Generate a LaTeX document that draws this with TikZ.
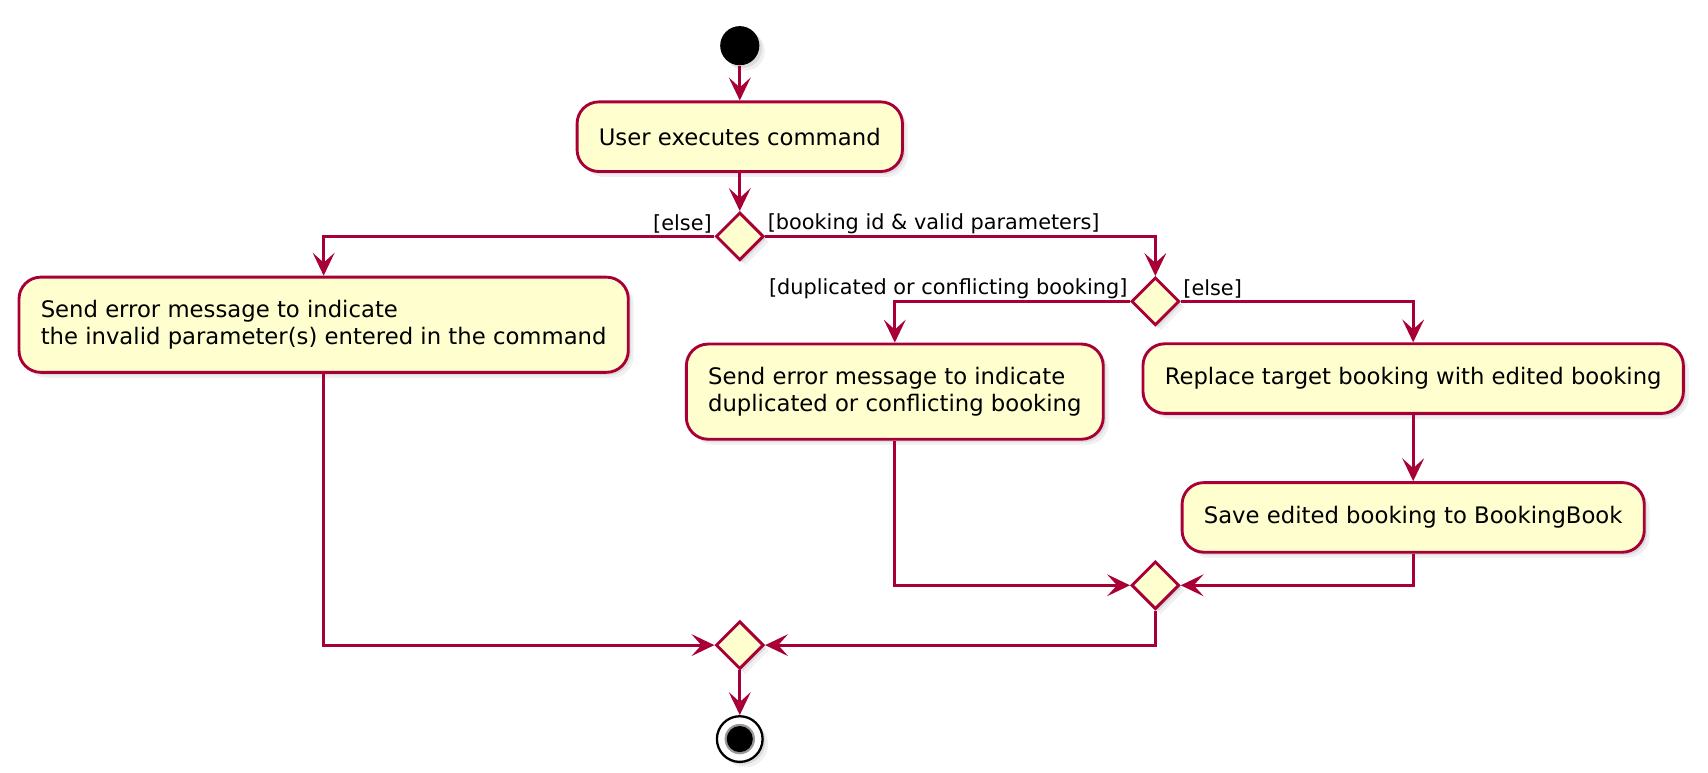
\documentclass[tikz,border=0pt]{standalone}
\usepackage{fontspec}
\setmainfont{DejaVu Sans}
\usepackage{tikz}
\usetikzlibrary{positioning,shapes.geometric,arrows.meta,shadows}
\definecolor{umlred}{HTML}{A80036}
\definecolor{umlfill}{HTML}{FEFECE}

\begin{document}
\begin{tikzpicture}[
x=0.02cm, y=-0.02cm,
umlshadow/.style={
	drop shadow={shadow xshift=0.05cm, shadow yshift=-0.05cm, opacity=0.18},
	drop shadow={shadow xshift=0.1cm, shadow yshift=-0.1cm, opacity=0.12}
},
act/.style={
	rectangle, rounded corners=0.4cm, draw=umlred, fill=umlfill,
	line width=1.5pt, minimum height=1.28cm, inner xsep=0.4cm,
	align=left, font=\fontsize{11.9}{14.2}\selectfont, umlshadow
},
act2/.style={act, minimum height=1.75cm},
choice/.style={
	diamond, draw=umlred, fill=umlfill, line width=1.5pt,
	minimum width=0.88cm, minimum height=0.88cm, inner sep=0pt, umlshadow
},
startdot/.style={circle, fill=black, minimum size=0.72cm, inner sep=0pt, umlshadow},
enddot/.style={
	circle, draw=black, fill=white, line width=1.2pt, minimum size=0.84cm, inner sep=0pt, umlshadow,
	path picture={
		\fill[black!40] (path picture bounding box.center) circle (0.28cm);
		\fill[black] (path picture bounding box.center) circle (0.24cm);
	}
},
guard/.style={font=\fontsize{10.9}{13}\selectfont, inner sep=1.2pt},
flow/.style={draw=umlred, line width=1.5pt},
>={Stealth[length=0.42cm, width=0.4cm, inset=0.18cm]},
->
]
\useasboundingbox (0,0) rectangle (1570,710);

\node[startdot] (start) at (680,42) {};
\node[act, below=0.64cm of start] (usercmd) {User executes command};
\node[choice, below=0.7cm of usercmd] (check) {};
\node[act2] (badparam) at (297.5,298.5) {Send error message to indicate\\the invalid parameter(s) entered in the command};
\node[choice] (conflict) at (1062,277) {};
\node[act2] (dupmsg) at (822.5,360) {Send error message to indicate\\duplicated or conflicting booking};
\node[act] (replace) at (1299,348) {Replace target booking with edited booking};
\node[act, below=1.22cm of replace] (save) {Save edited booking to BookingBook};
\node[choice] (merge1) at (1062,538) {};
\node[choice] (merge2) at (680,593) {};
\node[enddot, below=0.82cm of merge2] (stop) {};

\node[guard, above left] (elseA) at (check.west) {[else]};
\node[guard, above right] (validA) at (check.east) {[booking id \& valid parameters]};
\node[guard, above left] (dupA) at (conflict.west) {[duplicated or conflicting booking]};
\node[guard, above right] (elseB) at (conflict.east) {[else]};

\draw[flow] (start) -- (usercmd);
\draw[flow] (usercmd) -- (check);
\draw[flow] (check.west) -| (badparam.north);
\draw[flow] (check.east) -| (conflict.north);
\draw[flow] (conflict.west) -| (dupmsg.north);
\draw[flow] (conflict.east) -| (replace.north);
\draw[flow] (replace) -- (save);
\draw[flow] (dupmsg.south) |- (merge1.west);
\draw[flow] (save.south) |- (merge1.east);
\draw[flow] (badparam.south) |- (merge2.west);
\draw[flow] (merge1.south) |- (merge2.east);
\draw[flow] (merge2) -- (stop);
\end{tikzpicture}
\end{document}
